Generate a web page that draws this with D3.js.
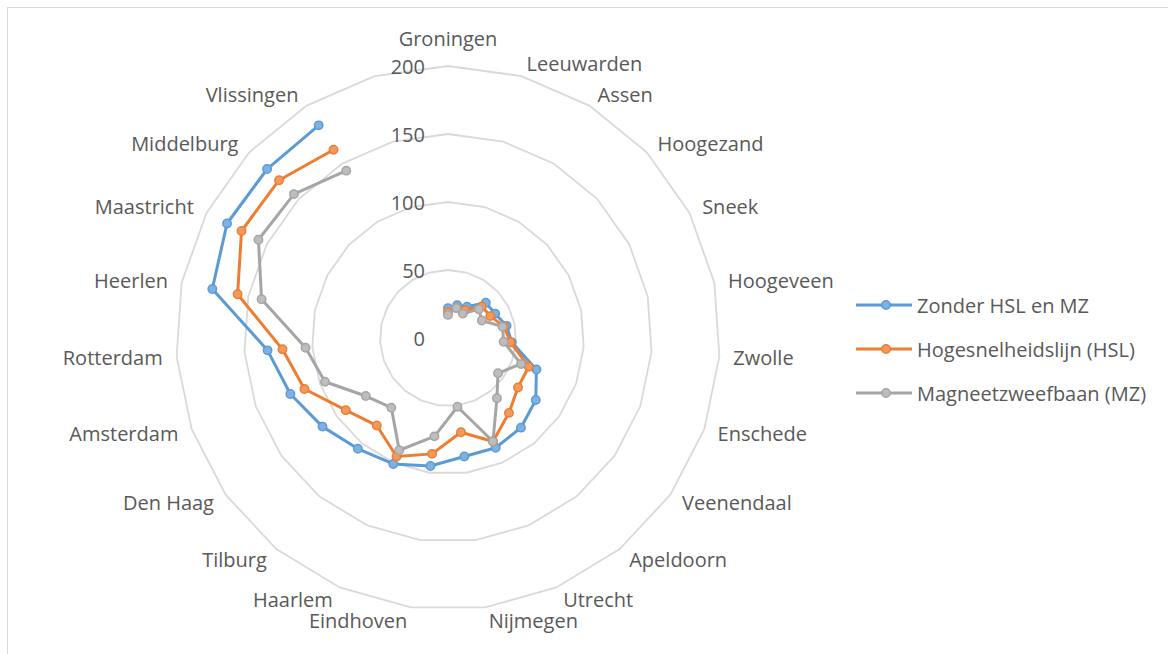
<!DOCTYPE html>
<html>
<head>
<meta charset="utf-8">
<script src="https://cdn.jsdelivr.net/npm/d3@7"></script>
<style>
  body { margin: 0; background: #ffffff; }
  svg text { font-family: "Open Sans", Lato, sans-serif; fill: #595959; }
</style>
</head>
<body>
<svg id="chart" width="1168" height="654"></svg>
<script>
// Reistijd per stad (minuten) voor drie scenario's; de laatste categorie is leeg.
const categories = [
  "Groningen", "Leeuwarden", "Assen", "Hoogezand", "Sneek", "Hoogeveen",
  "Zwolle", "Enschede", "Veenendaal", "Apeldoorn", "Utrecht", "Nijmegen",
  "Eindhoven", "Haarlem", "Tilburg", "Den Haag", "Amsterdam", "Rotterdam",
  "Heerlen", "Maastricht", "Middelburg", "Vlissingen", ""
];
const seriesNames = ["Zonder HSL en MZ", "Hogesnelheidslijn (HSL)", "Magneetzweefbaan (MZ)"];
const zonderValues = [22, 25, 27, 38, 39, 44, 47, 69, 79, 85, 88, 88, 95, 101, 105, 113, 123, 133, 177, 183, 182, 183, null];
const hslValues    = [19, 23, 24, 34, 35, 42, 46, 63, 63, 71, 83, 70, 86, 95, 83, 92, 112, 122, 158, 171, 170, 162, null];
const mzValues     = [17, 23, 21, 31, 28, 41, 41, 57, 45, 57, 83, 51, 73, 90, 66, 74, 96, 105, 140, 157, 155, 144, null];
const ringTicks = [50, 100, 150, 200];
const axisTicks = [0, 50, 100, 150, 200];

const seriesValues = [zonderValues, hslValues, mzValues];
const lineColors = ["#5b9bd5", "#ed7d31", "#a5a5a5"];
const markerFills = ["#7fb2e2", "#f29a5e", "#bdbdbd"];

const svg = d3.select("#chart");
const cx = 448, cy = 338, outerR = 272;
const fontSize = 20;

// chart area frame
svg.append("rect")
  .attr("x", 7.5).attr("y", 7.5)
  .attr("width", 1200).attr("height", 700)
  .attr("fill", "none").attr("stroke", "#d9d9d9").attr("stroke-width", 1);

const g = svg.append("g").attr("transform", `translate(${cx},${cy})`);

const r = d3.scaleLinear().domain([0, 200]).range([0, outerR]);
const angle = d3.scaleLinear().domain([0, categories.length]).range([0, 2 * Math.PI]);

// grid rings
const ring = d3.lineRadial()
  .angle((d, i) => angle(i))
  .radius(d => r(d))
  .curve(d3.curveLinearClosed);

g.append("g").selectAll("path")
  .data(ringTicks)
  .join("path")
  .attr("d", t => ring(categories.map(() => t)))
  .attr("fill", "none")
  .attr("stroke", "#d9d9d9")
  .attr("stroke-width", 1.8);

// value axis labels
g.append("g").selectAll("text")
  .data(axisTicks)
  .join("text")
  .attr("x", -23)
  .attr("y", t => -r(t))
  .attr("text-anchor", "end")
  .attr("dominant-baseline", "central")
  .attr("font-size", fontSize)
  .text(t => t);

// category labels around the outer ring
g.append("g").selectAll("text")
  .data(categories)
  .join("text")
  .each(function (name, i) {
    const a = angle(i);
    const s = Math.sin(a), c = Math.cos(a);
    const vx = outerR * s, vy = -outerR * c;
    const sel = d3.select(this);
    if (Math.abs(s) < 0.05) {
      sel.attr("x", vx).attr("y", vy - 28).attr("text-anchor", "middle");
    } else {
      const gap = 2 + 12 * Math.abs(s);
      sel.attr("x", vx + Math.sign(s) * gap)
         .attr("y", vy - 13 * c)
         .attr("text-anchor", s > 0 ? "start" : "end");
    }
  })
  .attr("dominant-baseline", "central")
  .attr("font-size", fontSize)
  .text(d => d);

// series lines and markers
const line = d3.lineRadial()
  .defined(d => d != null)
  .angle((d, i) => angle(i))
  .radius(d => r(d));

seriesValues.forEach((vals, k) => {
  const sg = g.append("g");
  sg.append("path")
    .attr("d", line(vals))
    .attr("fill", "none")
    .attr("stroke", lineColors[k])
    .attr("stroke-width", 3)
    .attr("stroke-linejoin", "round");
  sg.selectAll("circle")
    .data(vals.map((v, i) => ({ v, i })).filter(d => d.v != null))
    .join("circle")
    .attr("cx", d => r(d.v) * Math.sin(angle(d.i)))
    .attr("cy", d => -r(d.v) * Math.cos(angle(d.i)))
    .attr("r", 4.2)
    .attr("fill", markerFills[k])
    .attr("stroke", lineColors[k])
    .attr("stroke-width", 1.5);
});

// legend
const legend = svg.append("g").attr("transform", "translate(856,305)");
const items = legend.selectAll("g")
  .data(seriesNames)
  .join("g")
  .attr("transform", (d, i) => `translate(0,${i * 44})`);
items.append("line")
  .attr("x1", 0).attr("x2", 56)
  .attr("stroke", (d, i) => lineColors[i])
  .attr("stroke-width", 3);
items.append("circle")
  .attr("cx", 30).attr("r", 4.2)
  .attr("fill", (d, i) => markerFills[i])
  .attr("stroke", (d, i) => lineColors[i])
  .attr("stroke-width", 1.5);
items.append("text")
  .attr("x", 61)
  .attr("dominant-baseline", "central")
  .attr("font-size", fontSize)
  .text(d => d);
</script>
</body>
</html>
